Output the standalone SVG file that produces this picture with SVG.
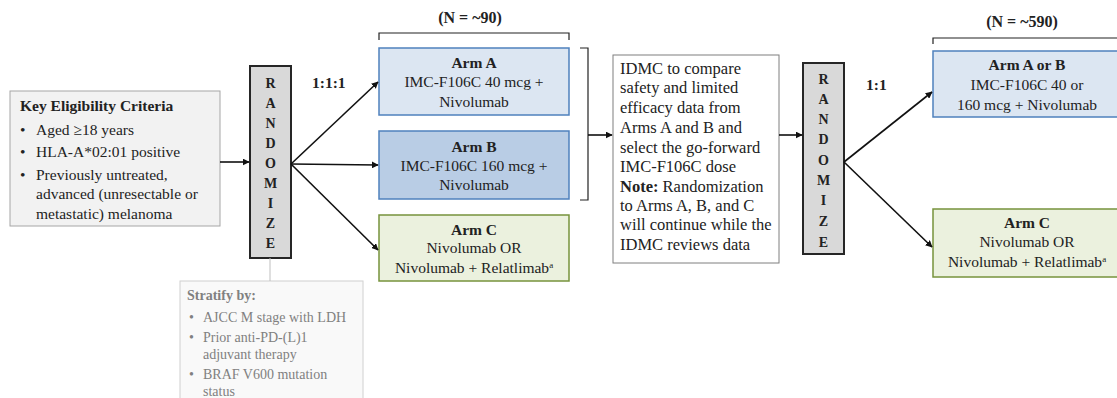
<svg xmlns="http://www.w3.org/2000/svg" width="1117" height="398" viewBox="0 0 1117 398" font-family="'Liberation Serif', 'Times New Roman', serif">
<defs>
<marker id="ah" viewBox="0 0 10 10" refX="9" refY="5" markerWidth="7" markerHeight="7" markerUnits="userSpaceOnUse" orient="auto">
<path d="M0,0 L10,5 L0,10 z" fill="#111"/>
</marker>
<style>
text{font-family:'Liberation Serif','Times New Roman',serif;fill:#222;}
.t{font-family:'Liberation Serif',serif;font-size:15.5px;text-anchor:middle;}
.b{font-weight:bold;}
.k{font-family:'Liberation Serif',serif;font-size:15.5px;}
.d{font-family:'Liberation Serif',serif;font-size:16.5px;}
.s{font-family:'Liberation Serif',serif;font-size:14px;fill:#808080;}
.r{font-family:'Liberation Serif',serif;font-size:14px;font-weight:bold;text-anchor:middle;fill:#222;}
.conn line,.conn path{stroke:#111;stroke-width:1.6;fill:none;}
.br{stroke:#222;stroke-width:1.2;fill:none;}
.armAB{fill:#dce6f2;stroke:#4f81bd;stroke-width:1.5;}
.armB{fill:#b9cde5;stroke:#4f81bd;stroke-width:1.5;}
.armC{fill:#ebf1de;stroke:#77933c;stroke-width:1.5;}
.rand{fill:#d9d9d9;stroke:#262626;stroke-width:2;}
</style>
</defs>
<rect width="1117" height="398" fill="#fff"/>

<g id="eligibility">
<rect x="10" y="91" width="210" height="135" fill="#f2f2f2" stroke="#a6a6a6" stroke-width="1"/>
<text x="20" y="111" class="k b">Key Eligibility Criteria</text>
<text x="20" y="135" class="k">•</text><text x="36" y="135" class="k">Aged ≥18 years</text>
<text x="20" y="157" class="k">•</text><text x="36" y="157" class="k">HLA-A*02:01 positive</text>
<text x="20" y="180" class="k">•</text><text x="36" y="180" class="k">Previously untreated,</text>
<text x="36" y="199" class="k">advanced (unresectable or</text>
<text x="36" y="219" class="k">metastatic) melanoma</text>
</g>

<g id="randomize1">
<rect x="250" y="66" width="41" height="192" class="rand"/>
<text class="r" x="270.5" y="88">R</text>
<text class="r" x="270.5" y="108">A</text>
<text class="r" x="270.5" y="128">N</text>
<text class="r" x="270.5" y="148">D</text>
<text class="r" x="270.5" y="168">O</text>
<text class="r" x="270.5" y="188">M</text>
<text class="r" x="270.5" y="208">I</text>
<text class="r" x="270.5" y="228">Z</text>
<text class="r" x="270.5" y="248">E</text>
</g>
<text x="312" y="88" class="k b">1:1:1</text>

<g id="stratify">
<rect x="180" y="281" width="183" height="130" fill="#f9f9f9" stroke="#d0d0d0" stroke-width="1"/>
<text x="187" y="300" class="s b">Stratify by:</text>
<text x="189" y="322" class="s">•</text><text x="203" y="322" class="s">AJCC M stage with LDH</text>
<text x="189" y="342" class="s">•</text><text x="203" y="342" class="s">Prior anti-PD-(L)1</text>
<text x="203" y="359" class="s">adjuvant therapy</text>
<text x="189" y="379" class="s">•</text><text x="203" y="379" class="s">BRAF V600 mutation</text>
<text x="203" y="396" class="s">status</text>
</g>

<text x="470" y="23" class="t b" style="font-size:16px">(N = ~90)</text>
<path class="br" d="M379,40 V33 H569 V40"/>

<g id="armA">
<rect x="379" y="48" width="190" height="67" class="armAB"/>
<text class="t b" x="474" y="68">Arm A</text>
<text class="t" x="474" y="87">IMC-F106C 40 mcg +</text>
<text class="t" x="474" y="107">Nivolumab</text>
</g>
<g id="armB">
<rect x="379" y="131" width="190" height="68" class="armB"/>
<text class="t b" x="474" y="152">Arm B</text>
<text class="t" x="474" y="171">IMC-F106C 160 mcg +</text>
<text class="t" x="474" y="190">Nivolumab</text>
</g>
<g id="armC">
<rect x="379" y="215" width="190" height="66" class="armC"/>
<text class="t b" x="474" y="235">Arm C</text>
<text class="t" x="474" y="253">Nivolumab  OR</text>
<text class="t" x="474" y="273">Nivolumab  + Relatlimab<tspan font-size="9" dy="-5">a</tspan></text>
</g>

<path class="br" d="M580,48 H588 V200 H580"/>

<g id="idmc">
<rect x="613" y="55" width="166" height="208" fill="#fff" stroke="#7f7f7f" stroke-width="1"/>
<text x="620" y="74" class="d">IDMC to compare</text>
<text x="620" y="93" class="d">safety and limited</text>
<text x="620" y="113" class="d">efficacy data from</text>
<text x="620" y="133" class="d">Arms A and B and</text>
<text x="620" y="153" class="d">select the go-forward</text>
<text x="620" y="172" class="d">IMC-F106C dose</text>
<text x="620" y="192" class="d"><tspan font-weight="bold">Note:</tspan> Randomization</text>
<text x="620" y="211" class="d">to Arms A, B, and C</text>
<text x="620" y="230" class="d">will continue while the</text>
<text x="620" y="250" class="d">IDMC reviews data</text>
</g>

<g id="randomize2">
<rect x="803" y="63" width="41" height="191" class="rand"/>
<text class="r" x="823.5" y="84">R</text>
<text class="r" x="823.5" y="104">A</text>
<text class="r" x="823.5" y="124">N</text>
<text class="r" x="823.5" y="144">D</text>
<text class="r" x="823.5" y="165">O</text>
<text class="r" x="823.5" y="185">M</text>
<text class="r" x="823.5" y="205">I</text>
<text class="r" x="823.5" y="226">Z</text>
<text class="r" x="823.5" y="247">E</text>
</g>
<text x="866" y="90" class="k b">1:1</text>

<text x="1022" y="27" class="t b" style="font-size:16px">(N = ~590)</text>
<path class="br" d="M933,44 V38 H1117"/>

<g id="armAorB">
<rect x="933" y="51" width="185" height="66" class="armAB"/>
<text class="t b" x="1027" y="70">Arm A or B</text>
<text class="t" x="1027" y="90">IMC-F106C 40 or</text>
<text class="t" x="1027" y="110">160 mcg + Nivolumab</text>
</g>
<g id="armC2">
<rect x="933" y="209" width="185" height="68" class="armC"/>
<text class="t b" x="1027" y="228">Arm C</text>
<text class="t" x="1027" y="247">Nivolumab  OR</text>
<text class="t" x="1027" y="267">Nivolumab  + Relatlimab<tspan font-size="9" dy="-5">a</tspan></text>
</g>

<g id="connectors" class="conn">
<line x1="220" y1="162" x2="249" y2="162" marker-end="url(#ah)"/>
<line x1="291" y1="164" x2="378" y2="82" marker-end="url(#ah)"/>
<line x1="291" y1="164" x2="378" y2="165" marker-end="url(#ah)"/>
<line x1="291" y1="164" x2="378" y2="250" marker-end="url(#ah)"/>
<line x1="270" y1="258" x2="270" y2="281" style="stroke:#bfbfbf;stroke-width:1"/>
<line x1="588" y1="135" x2="612" y2="135" marker-end="url(#ah)"/>
<line x1="779" y1="135" x2="802" y2="135" marker-end="url(#ah)"/>
<line x1="844" y1="162" x2="932" y2="92" marker-end="url(#ah)"/>
<line x1="844" y1="162" x2="932" y2="247" marker-end="url(#ah)"/>
</g>
</svg>
